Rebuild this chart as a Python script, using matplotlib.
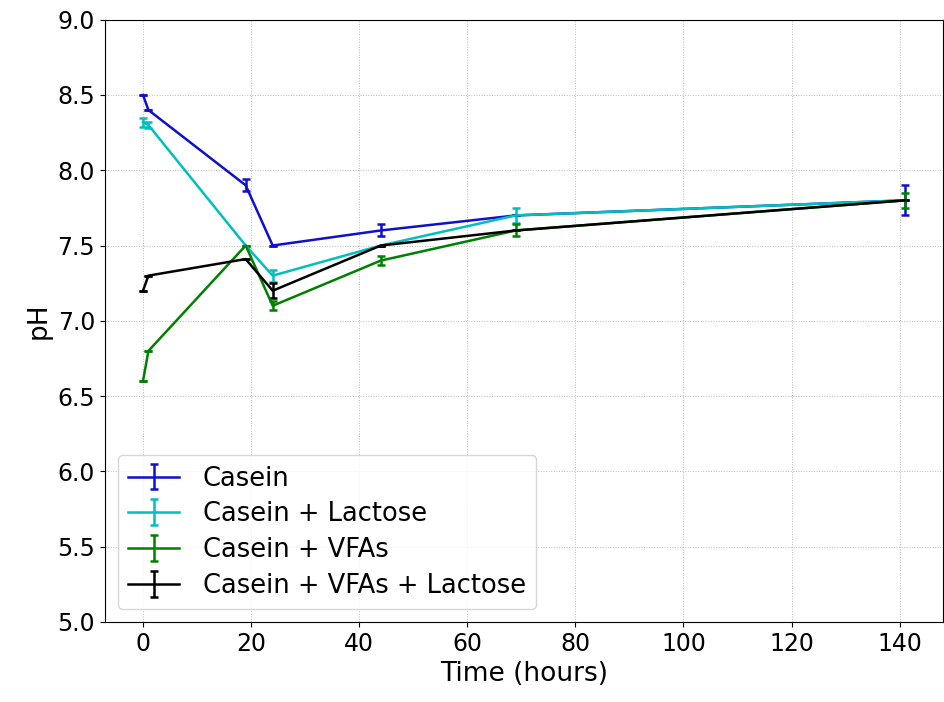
import matplotlib
matplotlib.use('Agg')
import matplotlib.pyplot as plt

# sampling times (hours)
time_h = [0, 1, 19, 24, 44, 69, 141]

# pH readings and error bars per condition
casein = [8.5, 8.4, 7.9, 7.5, 7.6, 7.7, 7.8]
casein_err = [0, 0, 0.04, 0, 0.04, 0, 0.1]

casein_lac = [8.32, 8.3, 7.5, 7.3, 7.5, 7.7, 7.8]
casein_lac_err = [0.03, 0.02, 0, 0.04, 0, 0.05, 0]

casein_vfa = [6.6, 6.8, 7.5, 7.1, 7.4, 7.6, 7.8]
casein_vfa_err = [0, 0, 0, 0.03, 0.03, 0.04, 0.05]

casein_vfa_lac = [7.2, 7.3, 7.41, 7.2, 7.5, 7.6, 7.8]
casein_vfa_lac_err = [0, 0, 0, 0.05, 0, 0, 0]

fig, ax = plt.subplots(figsize=(9.45, 7.02), dpi=100)
fig.subplots_adjust(left=0.111, right=0.998, bottom=0.114, top=0.972)

kw = dict(lw=1.8, capsize=3.2, capthick=1.8)
ax.errorbar(time_h, casein, yerr=casein_err, color='#1010cc', label='Casein', **kw)
ax.errorbar(time_h, casein_lac, yerr=casein_lac_err, color='#00bfbf', label='Casein + Lactose', **kw)
ax.errorbar(time_h, casein_vfa, yerr=casein_vfa_err, color='#008000', label='Casein + VFAs', **kw)
ax.errorbar(time_h, casein_vfa_lac, yerr=casein_vfa_lac_err, color='k', label='Casein + VFAs + Lactose', **kw)

ax.set_ylim(5.0, 9.0)
ax.set_xticks([0, 20, 40, 60, 80, 100, 120, 140])
ax.set_yticks([5.0, 5.5, 6.0, 6.5, 7.0, 7.5, 8.0, 8.5, 9.0])
ax.grid(True, linestyle=':', color='#bbbbbb', lw=0.7)
ax.tick_params(labelsize=17)
ax.set_xlabel('Time (hours)', fontsize=19)
ax.set_ylabel('pH', fontsize=19)
ax.legend(loc='lower left', fontsize=18.5, handletextpad=0.9, labelspacing=0.38)

fig.savefig('out.png', dpi=100)
